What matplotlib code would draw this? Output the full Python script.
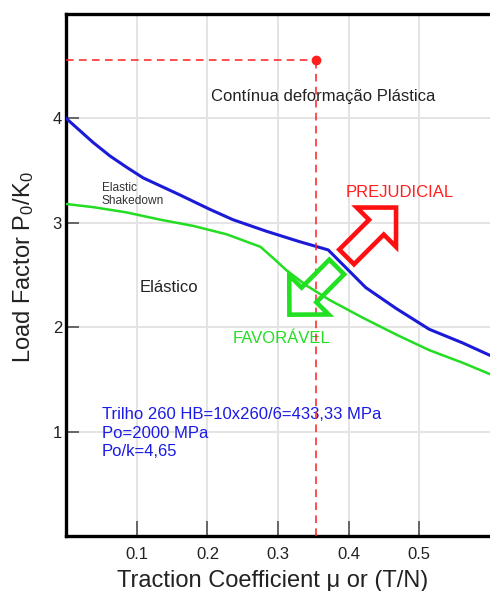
import matplotlib
matplotlib.use("Agg")
import matplotlib.pyplot as plt

plt.rcParams['font.family'] = ['Liberation Sans', 'DejaVu Sans']
plt.rcParams['mathtext.fontset'] = 'custom'
plt.rcParams['mathtext.rm'] = 'Liberation Sans'
plt.rcParams['mathtext.it'] = 'Liberation Sans'

# ---- data ----
blue_x = [0.0, 0.038, 0.062, 0.086, 0.109, 0.160, 0.203, 0.236, 0.283, 0.330,
          0.371, 0.424, 0.467, 0.514, 0.561, 0.6]
blue_y = [4.0, 3.77, 3.64, 3.53, 3.43, 3.27, 3.13, 3.03, 2.92, 2.82,
          2.74, 2.38, 2.18, 1.98, 1.85, 1.73]

green_x = [0.0, 0.038, 0.085, 0.133, 0.180, 0.227, 0.275, 0.295, 0.311, 0.340, 0.373,
           0.420, 0.467, 0.514, 0.561, 0.6]
green_y = [3.18, 3.15, 3.10, 3.03, 2.97, 2.89, 2.77, 2.65, 2.55, 2.40, 2.26,
           2.09, 1.93, 1.78, 1.66, 1.55]

op_mu = 0.353
op_load = 4.56

x_ticks = [0.1, 0.2, 0.3, 0.4, 0.5]
x_ticklabels = ["0.1", "0.2", "0.3", "0.4", "0.5"]
y_ticks = [1, 2, 3, 4]
y_ticklabels = ["1", "2", "3", "4"]

# arrows: (tail, tip) in data coordinates
red_arrow = ((0.397, 2.673), (0.467, 3.146))
green_arrow = ((0.383, 2.577), (0.316, 2.120))

fig = plt.figure(figsize=(4.9, 5.91), dpi=100)
ax = fig.add_axes([0.1351, 0.0931, 0.8649, 0.8832])

ax.set_xlim(0, 0.6)
ax.set_ylim(0, 5)

ax.set_xticks(x_ticks)
ax.set_xticklabels(x_ticklabels)
ax.set_yticks(y_ticks)
ax.set_yticklabels(y_ticklabels)
ax.grid(True, color='#e4e4e4', lw=1.4, zorder=0)
ax.set_axisbelow(True)
ax.tick_params(axis='x', direction='in', length=11, width=1.1, color='#444',
               labelsize=12, labelcolor='#222', pad=8)
ax.tick_params(axis='y', direction='in', length=9.5, width=1.1, color='#444',
               labelsize=12, labelcolor='#222', pad=3)

for s in ['left', 'bottom', 'top']:
    ax.spines[s].set_linewidth(2.4)
    ax.spines[s].set_color('black')
ax.spines['right'].set_visible(False)

# curves
ax.plot(blue_x, blue_y, color='#1a1ad8', lw=2.2, zorder=3)
ax.plot(green_x, green_y, color='#22dd22', lw=1.8, zorder=3)

# operating point
red = '#ff1f1f'
ax.plot([0, op_mu], [op_load, op_load], color=red, lw=1.1, ls=(0, (5, 3.5)), zorder=4)
ax.plot([op_mu, op_mu], [0, op_load], color=red, lw=1.1, ls=(0, (5, 3.5)), zorder=4)
ax.plot([op_mu], [op_load], 'o', color=red, ms=6, zorder=5)

# arrows (hollow)
for (tail, tip), col in [(red_arrow, '#ff1010'), (green_arrow, '#22e022')]:
    ax.annotate('', xy=tip, xytext=tail, xycoords='data', textcoords='data',
                arrowprops=dict(arrowstyle='simple,head_length=20,head_width=40,tail_width=15',
                                mutation_scale=1, fc='none', ec=col, lw=3.3,
                                shrinkA=0, shrinkB=0, joinstyle='miter'),
                zorder=6)

# texts
ax.text(0.2055, 4.21, 'Contínua deformação Plástica', fontsize=12, color='#222',
        ha='left', va='center')
ax.text(0.050, 3.27, 'Elastic\nShakedown', fontsize=8.6, color='#333',
        ha='left', va='center', linespacing=1.1)
ax.text(0.104, 2.38, 'Elástico', fontsize=12, color='#222', ha='left', va='center')
ax.text(0.395, 3.29, 'PREJUDICIAL', fontsize=12, color='#ff1f1f', ha='left', va='center')
ax.text(0.236, 1.89, 'FAVORÁVEL', fontsize=12, color='#22dd22', ha='left', va='center')
ax.text(0.050, 0.986, 'Trilho 260 HB=10x260/6=433,33 MPa\nPo=2000 MPa\nPo/k=4,65',
        fontsize=12, color='#1a1ae6', ha='left', va='center', linespacing=1.27)

ax.set_xlabel('Traction Coefficient μ or (T/N)', fontsize=17, color='#222', va='center')
ax.xaxis.set_label_coords(0.488, -0.086)
ax.set_ylabel('Load Factor P$_0$/K$_0$', fontsize=17, color='#222', va='center')
ax.yaxis.set_label_coords(-0.1, 0.515)

fig.savefig('out.png', dpi=100)
